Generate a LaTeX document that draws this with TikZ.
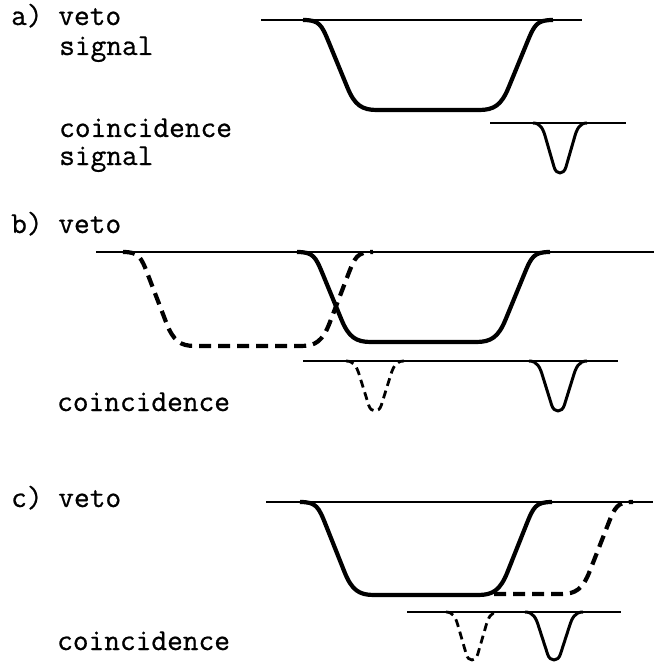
\documentclass[tikz,border=0pt]{standalone}
\usepackage{fontspec}
\newfontfamily\lblfont[FakeBold=0.7]{Latin Modern Mono}
\tikzset{
  base/.style={line width=2.4pt},
  vsolid/.style={line width=4.2pt, line join=round},
  vdash/.style={line width=4.2pt, dash pattern=on 12pt off 7pt, line join=round},
  csolid/.style={line width=3pt, line join=round},
  cdash/.style={line width=2.8pt, dash pattern=on 8pt off 5pt, line join=round},
  lbl/.style={anchor=base west, inner sep=0pt, font=\fontsize{30.5}{31}\selectfont\lblfont}
}
% veto pulse: style, x0, x1, baseline, depth, edge width
\newcommand\vetopulse[6]{%
  \draw[#1] (#2,#4) .. controls ({#2+0.22*#6},#4) and ({#2+0.25*#6},{#4+0.05*#5}) ..
    ({#2+0.35*#6},{#4+0.25*#5}) -- ({#2+0.6*#6},{#4+0.75*#5})
    .. controls ({#2+0.7*#6},{#4+0.95*#5}) and ({#2+0.8*#6},{#4+#5}) .. ({#2+#6},{#4+#5})
    -- ({#3-#6},{#4+#5})
    .. controls ({#3-0.8*#6},{#4+#5}) and ({#3-0.7*#6},{#4+0.95*#5}) .. ({#3-0.6*#6},{#4+0.75*#5})
    -- ({#3-0.35*#6},{#4+0.25*#5})
    .. controls ({#3-0.25*#6},{#4+0.05*#5}) and ({#3-0.22*#6},#4) .. (#3,#4);}
% veto rise only: style, xstart(bottom), x1, baseline, depth, edge width
\newcommand\vetorise[6]{%
  \draw[#1] (#2,{#4+#5}) -- ({#3-#6},{#4+#5})
    .. controls ({#3-0.8*#6},{#4+#5}) and ({#3-0.7*#6},{#4+0.95*#5}) .. ({#3-0.6*#6},{#4+0.75*#5})
    -- ({#3-0.35*#6},{#4+0.25*#5})
    .. controls ({#3-0.25*#6},{#4+0.05*#5}) and ({#3-0.22*#6},#4) .. (#3,#4);}
% coincidence pulse: style, xc, baseline, half width, depth
\newcommand\cpulse[5]{%
  \draw[#1] ({#2-#4},#3) .. controls ({#2-0.72*#4},#3) and ({#2-0.62*#4},{#3+0.12*#5}) ..
    ({#2-0.52*#4},{#3+0.32*#5}) -- ({#2-0.22*#4},{#3+0.88*#5})
    .. controls ({#2-0.14*#4},{#3+1.04*#5}) and ({#2+0.14*#4},{#3+1.04*#5}) .. ({#2+0.22*#4},{#3+0.88*#5})
    -- ({#2+0.52*#4},{#3+0.32*#5})
    .. controls ({#2+0.62*#4},{#3+0.12*#5}) and ({#2+0.72*#4},#3) .. ({#2+#4},#3);}
\begin{document}
\begin{tikzpicture}[x=1pt,y=-1pt]
\useasboundingbox (0,0) rectangle (655,663);
% ---- panel a
\node[lbl] (la) at (11,25) {a) veto};
\node[lbl] (la2) at (59,55) {signal};
\node[lbl] (lac) at (59,137) {coincidence};
\node[lbl] (lac2) at (59,165) {signal};
\draw[base] (261,20) -- (582,20);
\vetopulse{vsolid}{303}{553}{20}{90}{74}
\draw[base] (490,123) -- (626,123);
\cpulse{csolid}{560}{123}{27}{50}
% ---- panel b
\node[lbl] (lb) at (11,233) {b) veto};
\node[lbl] (lbc) at (57,411) {coincidence};
\draw[base] (96,252) -- (654,252);
\vetopulse{vdash}{123}{373}{252}{94}{72}
\vetopulse{vsolid}{297}{550}{252}{90}{74}
\draw[base] (303,361) -- (618,361);
\cpulse{cdash}{375}{361}{29}{50}
\cpulse{csolid}{558}{361}{29}{50}
% ---- panel c
\node[lbl] (lc) at (11,507) {c) veto};
\node[lbl] (lcc) at (57,650) {coincidence};
\draw[base] (266,502) -- (653,502);
\vetopulse{vsolid}{300}{552}{502}{93}{74}
\vetorise{vdash}{494}{633}{502}{92}{72}
\draw[base] (407,612) -- (621,612);
\cpulse{cdash}{472}{612}{26}{48}
\cpulse{csolid}{554}{612}{29}{48}
\end{tikzpicture}
\end{document}
